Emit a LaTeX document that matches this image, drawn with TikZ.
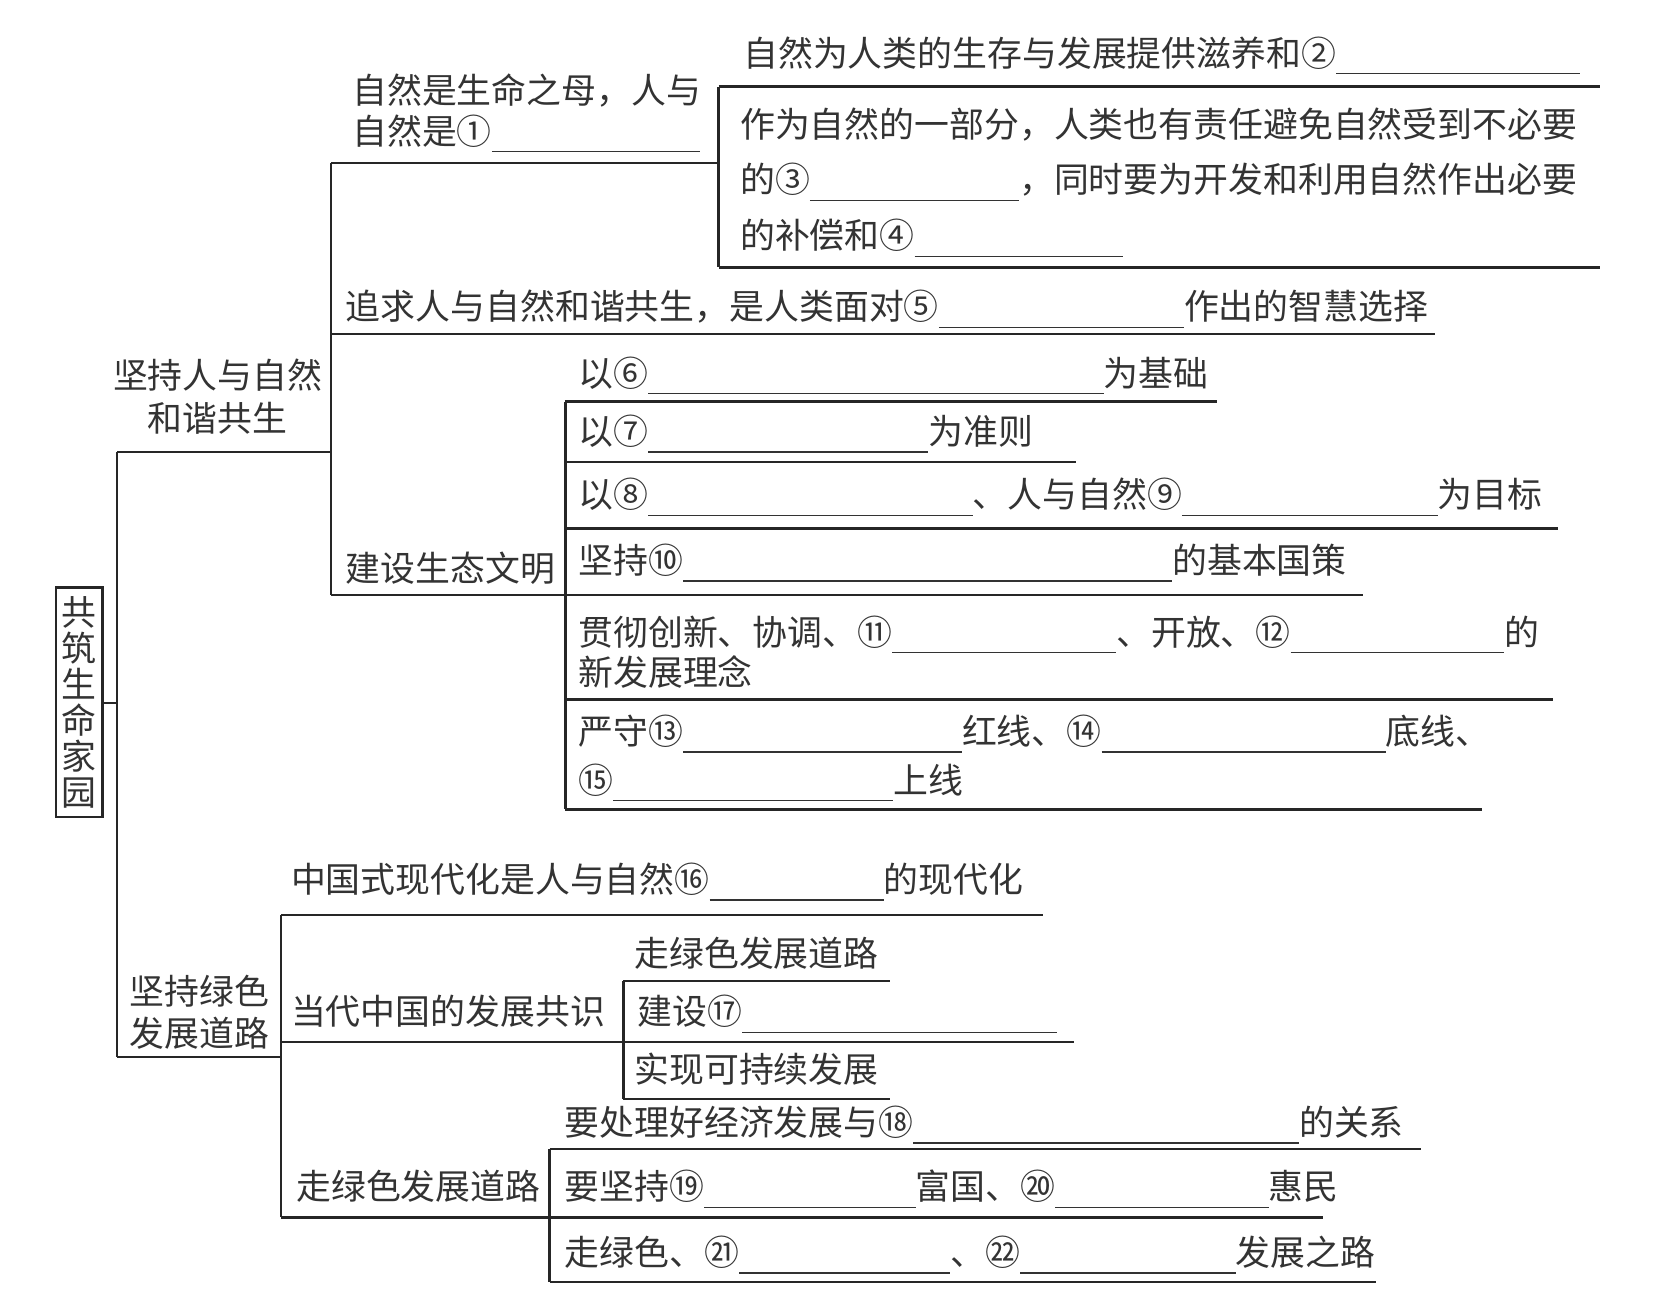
\documentclass[tikz,border=0pt]{standalone}
\usepackage{fontspec}
\setmainfont{Noto Sans CJK SC}
\newlength\px
\setlength\px{0.5pt}
\newcommand\blk[1]{\rule[-3.9pt]{#1\px}{0.6pt}}
\newcommand\fs{\fontsize{16.5pt}{20pt}\selectfont}
\begin{document}
\begin{tikzpicture}[x=0.5pt,y=-0.5pt,
  txt/.style={anchor=base west,inner sep=0pt,font=\fs,text=black!80},
  ctxt/.style={anchor=base,inner sep=0pt,font=\fs,text=black!80},
  bar/.style={line width=1.1pt,black!85},
  rootbox/.style={draw=black!85,line width=1.1pt,minimum width=44\px,minimum height=217\px,inner sep=0pt,align=center,font=\fontsize{16.5pt}{17pt}\selectfont,text=black!80}]
\useasboundingbox (0,0) rectangle (1568,1240);
% root
\node[rootbox] (root) at (75,664.5) {共\\筑\\生\\命\\家\\园};
\coordinate (trunk) at (111,665);
\draw[bar] (root.east |- trunk) -- (trunk);
\draw[bar] (111,428) -- (111,1000);
% level 1 branches
\draw[bar] (111,428) -- (313,428);
\draw[bar] (111,1000) -- (266,1000);
\node[ctxt] (la1) at (206,367.5) {坚持人与自然};
\node[ctxt] (la2) at (206,408.5) {和谐共生};
\node[ctxt] (lb1) at (189,950.5) {坚持绿色};
\node[ctxt] (lb2) at (189,990.5) {发展道路};
% upper level 2
\draw[bar] (313,154) -- (313,563);
\draw[bar] (313,154) -- (680,154);
\draw[bar] (313,316) -- (1358,316);
\draw[bar] (313,563) -- (1290,563);
\node[txt] (a1) at (333,97.5) {自然是生命之母，人与};
\node[txt] (a2) at (333,136.5) {自然是①\blk{197}};
\node[txt] (a5) at (327,302.5) {追求人与自然和谐共生，是人类面对⑤\blk{232}作出的智慧选择};
\node[txt] (a6) at (327,550.5) {建设生态文明};
% level 3 under 自然是生命之母
\draw[bar] (680,82) -- (680,253);
\draw[bar] (680,82) -- (1514,82);
\draw[bar] (680,253) -- (1514,253);
\node[txt] (b2) at (703,62.5) {自然为人类的生存与发展提供滋养和②\blk{231}};
\node[txt] (b3a) at (700,130.5) {作为自然的一部分，人类也有责任避免自然受到不必要};
\node[txt] (b3b) at (700,182.5) {的③\blk{198}，同时要为开发和利用自然作出必要};
\node[txt] (b3c) at (700,235.5) {的补偿和④\blk{197}};
% level 3 under 建设生态文明
\draw[bar] (535,380) -- (535,766);
\draw[bar] (535,380) -- (1152,380);
\draw[bar] (535,437) -- (1018,437);
\draw[bar] (535,500) -- (1474,500);
\draw[bar] (535,662) -- (1470,662);
\draw[bar] (535,766) -- (1402,766);
\node[txt] (c6) at (547,365.5) {以⑥\blk{431}为基础};
\node[txt] (c7) at (547,420.5) {以⑦\blk{265}为准则};
\node[txt] (c8) at (547,480.5) {以⑧\blk{307}、人与自然⑨\blk{242}为目标};
\node[txt] (c10) at (547,542.5) {坚持⑩\blk{463}的基本国策};
\node[txt] (c11a) at (547,610.5) {贯彻创新、协调、⑪\blk{212}、开放、⑫\blk{202}的};
\node[txt] (c11b) at (547,648.5) {新发展理念};
\node[txt] (c13a) at (547,704.5) {严守⑬\blk{264}红线、⑭\blk{269}底线、};
\node[txt] (c13b) at (547,750.5) {⑮\blk{265}上线};
% lower level 2
\draw[bar] (266,866) -- (266,1152);
\draw[bar] (266,866) -- (987,866);
\draw[bar] (266,986) -- (1016,986);
\draw[bar] (266,1152) -- (1252,1152);
\node[txt] (d16) at (275,844.5) {中国式现代化是人与自然⑯\blk{165}的现代化};
\node[txt] (dgs) at (275,969.5) {当代中国的发展共识};
\node[txt] (dlu) at (280,1135.5) {走绿色发展道路};
% level 3 under 当代中国的发展共识
\draw[bar] (590,928) -- (590,1040);
\draw[bar] (590,928) -- (842,928);
\draw[bar] (590,1040) -- (842,1040);
\node[txt] (e1) at (600,914.5) {走绿色发展道路};
\node[txt] (e2) at (603,969.5) {建设⑰\blk{298}};
\node[txt] (e3) at (600,1024.5) {实现可持续发展};
% level 3 under 走绿色发展道路
\draw[bar] (520,1087) -- (520,1213);
\draw[bar] (520,1087) -- (1345,1087);
\draw[bar] (520,1213) -- (1302,1213);
\node[txt] (f18) at (534,1074.5) {要处理好经济发展与⑱\blk{365}的关系};
\node[txt] (f19) at (534,1135.5) {要坚持⑲\blk{200}富国、⑳\blk{202}惠民};
\node[txt] (f21) at (534,1197.5) {走绿色、㉑\blk{200}、㉒\blk{204}发展之路};
\end{tikzpicture}
\end{document}
